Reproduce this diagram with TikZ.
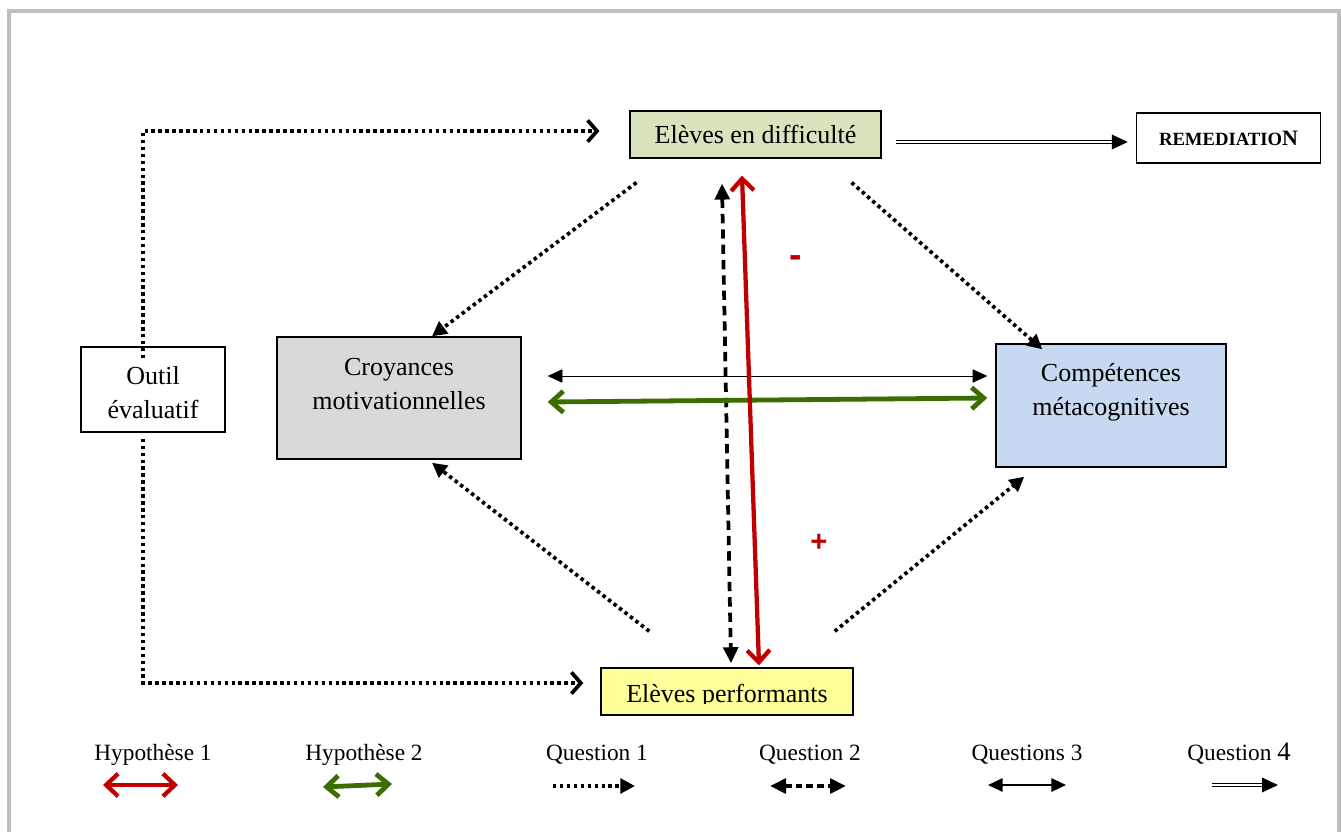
\documentclass[tikz,border=0pt]{standalone}
\usepackage{fontspec}
\setmainfont{Liberation Serif}
\newfontfamily\signfont{Liberation Sans}
\usepackage{xcolor}
\usetikzlibrary{arrows.meta,calc}

\definecolor{diffgreen}{HTML}{D7E4BD}
\definecolor{croygray}{HTML}{D9D9D9}
\definecolor{compblue}{HTML}{C6D9F1}
\definecolor{perfyellow}{HTML}{FFFF99}
\definecolor{hypred}{HTML}{C00000}
\definecolor{hypgreen}{HTML}{3B6E00}
\definecolor{framegray}{HTML}{BFBFBF}

\begin{document}
\begin{tikzpicture}[x=0.75pt, y=-0.75pt,
  every node/.style={font=\fontsize{19.5}{25.5}\selectfont},
  box/.style={draw, line width=1.1pt, align=center, inner sep=0pt},
  legtxt/.style={font=\fontsize{17.5}{20}\selectfont},
  sign/.style={font=\signfont\bfseries\fontsize{22}{22}\selectfont, text=hypred},
  qone/.style={line width=2.8pt, dash pattern=on 2.6pt off 2.6pt, -{Triangle[length=11pt,width=11pt]}},
  qonebarb/.style={line width=2.8pt, dash pattern=on 2.6pt off 2.6pt, -{Straight Barb[length=7pt,width=16pt]}},
  qtwo/.style={line width=2.8pt, dash pattern=on 7pt off 4.5pt, {Triangle[length=12pt,width=11pt]}-{Triangle[length=12pt,width=11pt]}},
  qthree/.style={line width=0.6pt, {Triangle[length=11pt,width=10pt]}-{Triangle[length=11pt,width=10pt]}},
  qfour/.style={double, double distance=1.6pt, line width=1pt, -{Triangle[length=12pt,width=11pt]}},
  hone/.style={hypred, line width=3.2pt, {Straight Barb[length=9pt,width=17pt]}-{Straight Barb[length=9pt,width=17pt]}},
  htwo/.style={hypgreen, line width=3.6pt, {Straight Barb[length=9pt,width=16pt]}-{Straight Barb[length=9pt,width=16pt]}}]
\useasboundingbox (0,0) rectangle (1341,831);
% Frame (open at the bottom)
\draw[framegray, line width=3pt] (9,845) -- (9,11.5) -- (1339,11.5) -- (1339,845);
% Boxes
\node[box, fill=diffgreen, minimum width=188pt, minimum height=35pt] (diff) at (755.5,134.5) {Elèves en difficulté};
\node[box, minimum width=138pt, minimum height=37.5pt, font=\fontsize{14}{16}\selectfont\bfseries] (remed) at (1228.5,138) {REMEDIATIO{\fontsize{16.5}{16}\selectfont N}};
\node[box, minimum width=108pt, minimum height=63.75pt] (outil) at (153,389.5) {};
\node[align=center] (outilT) at (153,393) {Outil\\évaluatif};
\node[box, fill=croygray, minimum width=183pt, minimum height=91.5pt] (croy) at (399,398) {};
\node[align=center] (croyT) at (399,384) {Croyances\\motivationnelles};
\node[box, fill=compblue, minimum width=172.5pt, minimum height=92.25pt] (comp) at (1111,405.5) {};
\node[align=center] (compT) at (1111,392) {Compétences\\métacognitives};
\node[box, fill=perfyellow, minimum width=189pt, minimum height=35.25pt] (perf) at (727,691.5) {};
\begin{scope}
\clip ($(perf.north west)+(2,2)$) rectangle ($(perf.east)+(-2,12)$);
\node[anchor=base] (perfT) at (727,702) {Elèves performants};
\end{scope}
% Question 1 (dotted)
\draw[qonebarb] ($(outil.north)+(-10,12)$) |- ($(diff.west)+(-30,-3.5)$);
\draw[qonebarb] ($(outil.south)+(-10,6)$) |- ($(perf.west)+(-17,-8.5)$);
\draw[qone] ($(diff.south west)+(7,24)$) -- ($(croy.north)+(33,0)$);
\draw[qone] ($(diff.south east)+(-30,24)$) -- ($(comp.north west)+(47,6)$);
\draw[qone] ($(perf.north west)+(49,-36)$) -- ($(croy.south)+(33,3)$);
\draw[qone] ($(perf.north east)+(-19,-36)$) -- ($(comp.south west)+(29,9)$);
% Question 2, Question 3, Question 4
\draw[qtwo] ($(diff.south)+(-33.5,25)$) -- ($(perf.north)+(4,-4)$);
\draw[qthree] ($(croy.east)+(26,-22)$) -- ($(comp.west)+(-8,-29.5)$);
\draw[qfour] ($(diff.east)+(14,7.5)$) -- ($(remed.west)+(-8,4)$);
% Hypotheses
\draw[htwo] ($(croy.east)+(26,4)$) -- ($(comp.west)+(-8,-7.5)$);
\draw[hone] ($(diff.south)+(-13.5,17)$) -- ($(perf.north)+(32,-2)$);
\node[sign, font=\signfont\bfseries\fontsize{28}{28}\selectfont] (minus) at (796,262) {-};
\node[sign] (plus) at (819,543) {+};
% Legend
\node[legtxt] (leg1) at (153,755) {Hypothèse 1};
\node[legtxt] (leg2) at (364,755) {Hypothèse 2};
\node[legtxt] (leg3) at (597,755) {Question 1};
\node[legtxt] (leg4) at (810,755) {Question 2};
\node[legtxt] (leg5) at (1027,755) {Questions 3};
\node[legtxt] (leg6) at (1239,754) {Question {\fontsize{20}{20}\selectfont 4}};
\coordinate (h1a) at (103,785); \coordinate (h1b) at (178,785);
\coordinate (h2a) at (323,787); \coordinate (h2b) at (392,784);
\coordinate (q1a) at (553,786); \coordinate (q1b) at (635,786);
\coordinate (q2a) at (770,786); \coordinate (q2b) at (846,786);
\coordinate (q3a) at (988,785); \coordinate (q3b) at (1066,785);
\coordinate (q4a) at (1212,785); \coordinate (q4b) at (1278,785);
\draw[hone] (h1a) -- (h1b);
\draw[htwo] (h2a) -- (h2b);
\draw[qone] (q1a) -- (q1b);
\draw[qtwo, dash pattern=on 5pt off 3pt] (q2a) -- (q2b);
\draw[qthree, line width=1.5pt] (q3a) -- (q3b);
\draw[qfour] (q4a) -- (q4b);
\end{tikzpicture}
\end{document}
